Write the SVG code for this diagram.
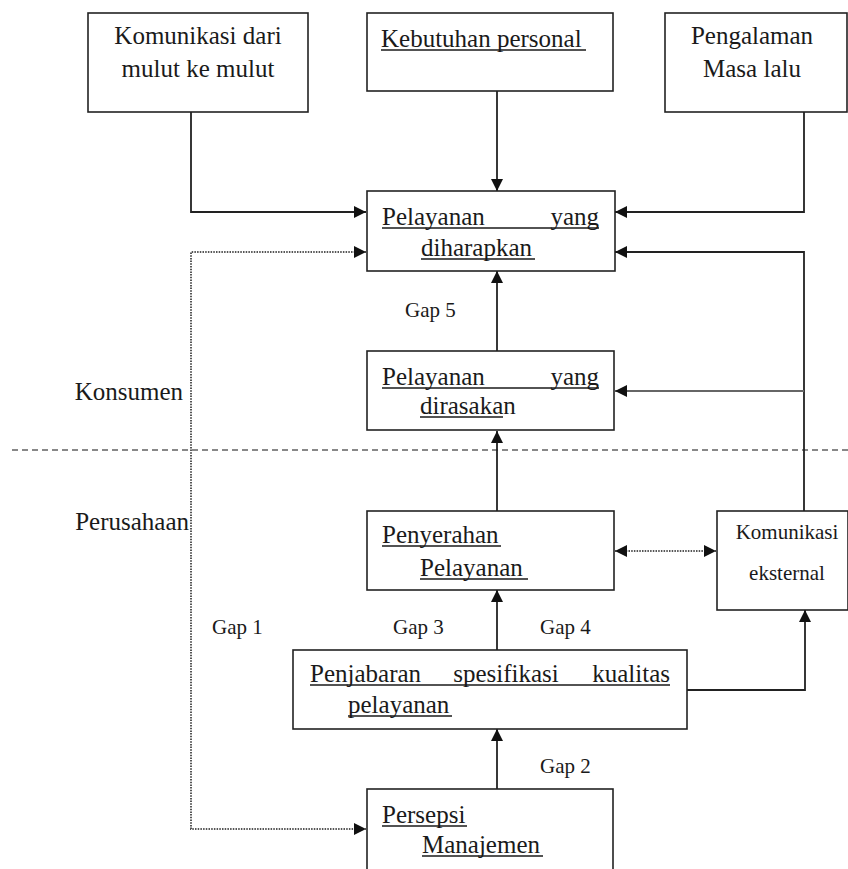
<svg xmlns="http://www.w3.org/2000/svg" width="848" height="869" viewBox="0 0 848 869" font-family="Liberation Serif, Tinos, Noto Serif, DejaVu Serif, serif">
<style>
.box{fill:#fff;stroke:#222;stroke-width:1.6}
text{font-family:"Liberation Serif",Tinos,"Noto Serif","DejaVu Serif",serif;fill:#1a1a1a}
.t{font-size:25px}
.s{font-size:21px}
.ul{stroke:#1a1a1a;stroke-width:1.3}
.c{fill:none;stroke:#222;stroke-width:1.8}
.g{fill:none;stroke:#666;stroke-width:1.8}
.d{fill:none;stroke:#555;stroke-width:2;stroke-dasharray:1.5 1.2}
.dash{fill:none;stroke:#888;stroke-width:2;stroke-dasharray:6 4}
</style>
<defs>
<marker id="ah" markerUnits="userSpaceOnUse" markerWidth="12" markerHeight="12" viewBox="0 0 12 12" refX="12" refY="6" orient="auto-start-reverse">
<path d="M0,0 L12,6 L0,12 z" fill="#111"/>
</marker>
</defs>
<rect width="848" height="869" fill="#fff"/>
<line class="dash" x1="12" y1="450" x2="848" y2="450"/>
<g id="connectors">
<path class="c" d="M191,112 V212 H366" marker-end="url(#ah)"/>
<path class="c" d="M497,91 V191" marker-end="url(#ah)"/>
<path class="c" d="M804,112 V212 H615" marker-end="url(#ah)"/>
<path class="d" d="M366,252 H191 V829 H366" marker-start="url(#ah)" marker-end="url(#ah)"/>
<path class="c" d="M497,351 V271" marker-end="url(#ah)"/>
<path class="c" d="M804,511 V252 H615" marker-end="url(#ah)"/>
<path class="g" d="M804,391 H615" marker-end="url(#ah)"/>
<path class="c" d="M497,511 V431" marker-end="url(#ah)"/>
<path class="d" d="M615,551 H716" marker-start="url(#ah)" marker-end="url(#ah)"/>
<path class="c" d="M497,650 V590" marker-end="url(#ah)"/>
<path class="c" d="M687,690 H805 V610" marker-end="url(#ah)"/>
<path class="c" d="M497,789 V729" marker-end="url(#ah)"/>
</g>
<g id="komunikasi-mulut">
<rect class="box" x="88" y="13" width="220" height="99"/>
<text class="t" x="198" y="44" text-anchor="middle">Komunikasi dari</text>
<text class="t" x="198" y="77" text-anchor="middle">mulut ke mulut</text>
</g>
<g id="kebutuhan">
<rect class="box" x="367" y="13" width="246" height="78"/>
<text class="t" x="381" y="47">Kebutuhan personal</text>
<line class="ul" x1="381" y1="50" x2="586" y2="50"/>
</g>
<g id="pengalaman">
<rect class="box" x="665" y="13" width="182" height="99"/>
<text class="t" x="752" y="44" text-anchor="middle">Pengalaman</text>
<text class="t" x="752" y="77" text-anchor="middle">Masa lalu</text>
</g>
<g id="diharapkan">
<rect class="box" x="367" y="191" width="248" height="80"/>
<text class="t" x="382" y="225">Pelayanan</text>
<text class="t" x="599" y="225" text-anchor="end">yang</text>
<line class="ul" x1="382" y1="228" x2="599" y2="228"/>
<text class="t" x="421" y="256">diharapkan</text>
<line class="ul" x1="421" y1="259" x2="535" y2="259"/>
</g>
<g id="dirasakan">
<rect class="box" x="367" y="351" width="247" height="79"/>
<text class="t" x="382" y="385">Pelayanan</text>
<text class="t" x="599" y="385" text-anchor="end">yang</text>
<line class="ul" x1="382" y1="388" x2="599" y2="388"/>
<text class="t" x="420" y="414">dirasakan</text>
<line class="ul" x1="420" y1="417" x2="503" y2="417"/>
</g>
<g id="penyerahan">
<rect class="box" x="367" y="511" width="247" height="79"/>
<text class="t" x="382" y="543">Penyerahan</text>
<line class="ul" x1="382" y1="546" x2="501" y2="546"/>
<text class="t" x="420" y="576">Pelayanan</text>
<line class="ul" x1="420" y1="579" x2="528" y2="579"/>
</g>
<g id="komunikasi-eksternal">
<rect class="box" x="717" y="511" width="131" height="99"/>
<text class="s" x="787" y="539" text-anchor="middle">Komunikasi</text>
<text class="s" x="787" y="580" text-anchor="middle">eksternal</text>
</g>
<g id="penjabaran">
<rect class="box" x="293" y="650" width="394" height="79"/>
<text class="t" x="310" y="682">Penjabaran</text>
<text class="t" x="506" y="682" text-anchor="middle">spesifikasi</text>
<text class="t" x="670" y="682" text-anchor="end">kualitas</text>
<line class="ul" x1="310" y1="685" x2="670" y2="685"/>
<text class="t" x="348" y="713">pelayanan</text>
<line class="ul" x1="348" y1="716" x2="452" y2="716"/>
</g>
<g id="persepsi">
<rect class="box" x="367" y="789" width="246" height="84"/>
<text class="t" x="382" y="823">Persepsi</text>
<line class="ul" x1="382" y1="826" x2="467" y2="826"/>
<text class="t" x="422" y="853">Manajemen</text>
<line class="ul" x1="422" y1="856" x2="543" y2="856"/>
</g>
<g id="labels">
<text class="t" x="183" y="400" text-anchor="end">Konsumen</text>
<text class="t" x="189" y="530" text-anchor="end">Perusahaan</text>
<text class="s" x="405" y="317">Gap 5</text>
<text class="s" x="212" y="634">Gap 1</text>
<text class="s" x="393" y="634">Gap 3</text>
<text class="s" x="540" y="634">Gap 4</text>
<text class="s" x="540" y="773">Gap 2</text>
</g>
</svg>
